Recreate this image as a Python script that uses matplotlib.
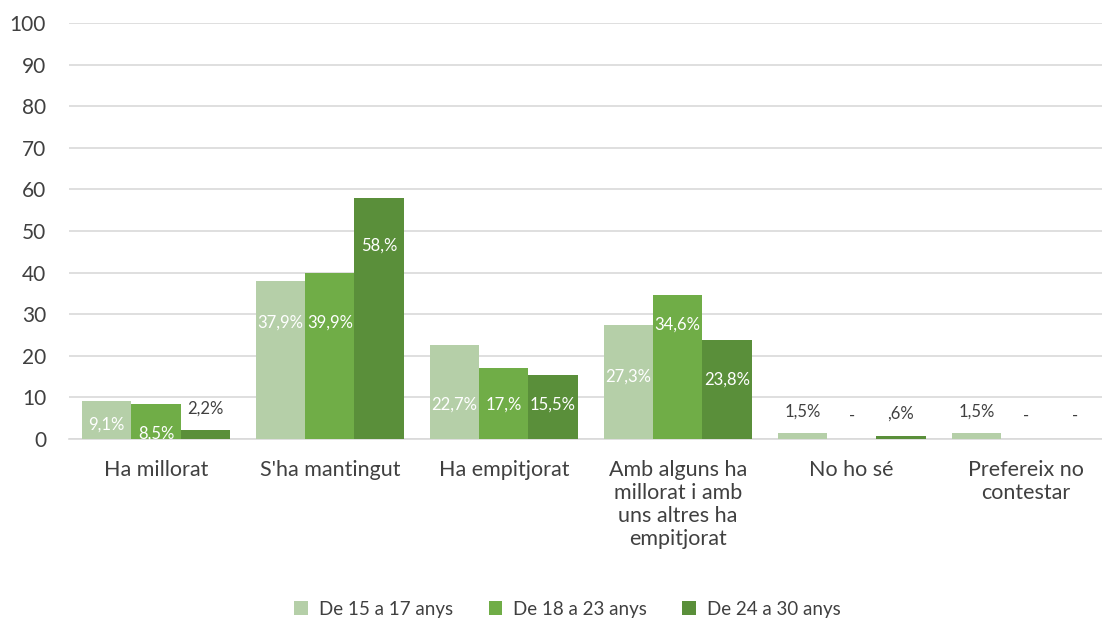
import matplotlib.pyplot as plt
import numpy as np

# Values (percent)
categories = ['Ha millorat', "S'ha mantingut", 'Ha empitjorat',
              'Amb alguns ha\nmillorat i amb\nuns altres ha\nempitjorat',
              'No ho sé', 'Prefereix no\ncontestar']
series_names = ['De 15 a 17 anys', 'De 18 a 23 anys', 'De 24 a 30 anys']
age_15_17 = [9.1, 37.9, 22.7, 27.3, 1.5, 1.5]
age_18_23 = [8.5, 39.9, 17.0, 34.6, 0.0, 0.0]
age_24_30 = [2.2, 58.0, 15.5, 23.8, 0.6, 0.0]

# where each data label sits (data units), as placed in the original
label_y_15_17 = [3.4, 27.9, 8.2, 14.9, 6.5, 6.5]
label_y_18_23 = [1.2, 27.9, 8.2, 27.4, 5.5, 5.5]
label_y_24_30 = [7.4, 46.6, 8.2, 14.2, 6.0, 5.5]

colors = ['#b5cfa8', '#70ad47', '#5a8f3a']
plt.rcParams['font.family'] = ['Lato', 'DejaVu Sans']


def fmt(v):
    # mimic the original "#,#%" style labels
    if v == 0:
        return '-'
    s = f'{v:.1f}'.replace('.', ',')
    if s.endswith('0'):
        s = s[:-1]
    if s.startswith('0'):
        s = s[1:]
    return s + '%'


fig = plt.figure(figsize=(11.02, 6.19), dpi=100)
# the plot area runs past the right edge, as in the cropped original
ax = fig.add_axes([0.0626, 0.2908, 0.947, 0.672])

x = np.arange(len(categories))
w = 0.283
all_series = [age_15_17, age_18_23, age_24_30]
all_labels = [label_y_15_17, label_y_18_23, label_y_24_30]
for i, (vals, laby, color, name) in enumerate(zip(all_series, all_labels, colors, series_names)):
    pos = x + (i - 1) * w
    ax.bar(pos, vals, width=w, color=color, label=name, zorder=3)
    for px, v, ly in zip(pos, vals, laby):
        inside = ly < v
        ax.text(px, ly, fmt(v), ha='center', va='center', fontsize=12,
                color='white' if inside else '#404040', zorder=4)

ax.set_ylim(0, 100)
ax.set_xlim(-0.5, len(categories) - 0.5)
ax.set_yticks(range(0, 101, 10))
ax.set_xticks(x)
ax.set_xticklabels(categories, fontsize=15.5, color='#404040', linespacing=1.2)
ax.tick_params(axis='y', labelsize=15, labelcolor='#404040', length=0, pad=16.5)
ax.tick_params(axis='x', length=0, pad=15)
ax.grid(axis='y', color='#d9d9d9', linewidth=1.2, zorder=0)
for side in ['top', 'right', 'left']:
    ax.spines[side].set_visible(False)
ax.spines['bottom'].set_color('#d9d9d9')
ax.spines['bottom'].set_linewidth(1.2)

fig.legend(loc='lower center', ncol=3, frameon=False, fontsize=13.5,
           bbox_to_anchor=(0.515, -0.025), handlelength=0.7, handleheight=0.7,
           columnspacing=1.9, handletextpad=0.6, labelcolor='#404040')

plt.savefig('out.png', dpi=100)
